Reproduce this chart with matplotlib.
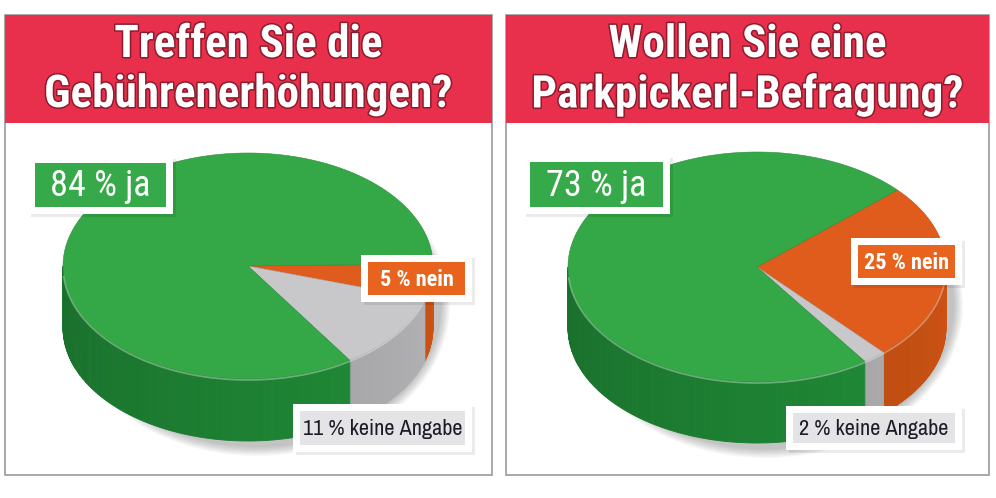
import matplotlib
matplotlib.use("Agg")
import matplotlib.pyplot as plt
import matplotlib.patheffects as pe
from matplotlib.patches import Rectangle, Ellipse
import numpy as np

# survey results, slices drawn clockwise starting at the start angle
titles = [["Treffen Sie die", "Gebührenerhöhungen?"],
          ["Wollen Sie eine", "Parkpickerl-Befragung?"]]
slice_names = ["nein", "keine Angabe", "ja"]
left_values = [5, 11, 84]
right_values = [25, 2, 73]
start_angles = [1, 42]
label_texts = [["5 % nein", "11 % keine Angabe", "84 % ja"],
               ["25 % nein", "2 % keine Angabe", "73 % ja"]]

top_colors = {"nein": "#e05c1c", "keine Angabe": "#c8c8ca", "ja": "#34a746"}
side_colors = {"nein": "#c24e12", "keine Angabe": "#ababad", "ja": "#1f8a36"}
box_colors = {"nein": "#e8641e", "keine Angabe": "#e4e4e6", "ja": "#36a94a"}
text_colors = {"nein": "white", "keine Angabe": "#1c1c28", "ja": "white"}

HEAD = ["Roboto Condensed", "DejaVu Sans"]
NARROW = ["Archivo Narrow", "Roboto Condensed", "DejaVu Sans"]

W, H = 996, 498
fig = plt.figure(figsize=(W / 100, H / 100), dpi=100)
ax = fig.add_axes([0, 0, 1, 1])
ax.set_xlim(0, W)
ax.set_ylim(H, 0)
ax.axis("off")


def shade(color, f):
    c = np.array(matplotlib.colors.to_rgb(color))
    return np.clip(c * f, 0, 1)


def draw_pie(values, start, cx, cy, a, b, depth):
    vals = np.array(values, dtype=float)
    fracs = vals / vals.sum()
    edges = start - np.concatenate([[0], np.cumsum(fracs)]) * 360.0

    # soft shadow
    for k in range(8):
        ax.add_patch(Ellipse((cx + 9, cy + depth / 2 + 8), 2 * a + 16 - k * 2.5,
                             2 * b + depth + 14 - k * 2.5, color="black",
                             alpha=0.03, lw=0, zorder=1))

    # front side, split into thin strips for shading
    for i, name in enumerate(slice_names):
        t1, t2 = edges[i], edges[i + 1]
        lo, hi = min(t1, t2), max(t1, t2)
        for off in (-360, 0, 360):
            s = max(lo, 180 + off)
            e = min(hi, 360 + off)
            if e <= s:
                continue
            th = np.linspace(s, e, int(e - s) + 2)
            for j in range(len(th) - 1):
                tt = np.radians(np.linspace(th[j], th[j + 1], 3))
                xs = cx + a * np.cos(tt)
                ys = cy - b * np.sin(tt)
                # darker toward the left side
                ang = (th[j] - off)
                f = 0.8 + 0.26 * np.clip((ang - 180) / 180, 0, 1)
                col = shade(side_colors[name], f)
                ax.fill(np.r_[xs, xs[::-1]], np.r_[ys, ys[::-1] + depth],
                        color=col, lw=0.6, ec=col, zorder=2)

    # top wedges
    for i, name in enumerate(slice_names):
        th = np.radians(np.linspace(edges[i], edges[i + 1], 200))
        xs = np.r_[cx, cx + a * np.cos(th)]
        ys = np.r_[cy, cy - b * np.sin(th)]
        ax.fill(xs, ys, color=top_colors[name], lw=0.4,
                ec=shade(top_colors[name], 0.85), zorder=3)

    # light rim along the front edge
    th = np.radians(np.linspace(185, 355, 200))
    ax.plot(cx + a * np.cos(th), cy - b * np.sin(th) + 1, color="white",
            alpha=0.35, lw=1.2, zorder=4)


def label(x0, y0, x1, y1, text, name, size, weight="normal", pad=7):
    ax.add_patch(Rectangle((x0 - pad + 3, y0 - pad + 3), x1 - x0 + 2 * pad,
                           y1 - y0 + 2 * pad, fc="black", alpha=0.08, lw=0, zorder=5))
    ax.add_patch(Rectangle((x0 - pad, y0 - pad), x1 - x0 + 2 * pad, y1 - y0 + 2 * pad,
                           fc="white", lw=0, zorder=5))
    ax.add_patch(Rectangle((x0, y0), x1 - x0, y1 - y0, fc=box_colors[name],
                           lw=0, zorder=6))
    ax.text((x0 + x1) / 2, (y0 + y1) / 2 + 1, text, ha="center", va="center",
            fontsize=size, fontweight=weight, color=text_colors[name],
            family=NARROW if name == "keine Angabe" else HEAD, zorder=7)


panels = [(5, 492), (506, 989)]
for p, (x0, x1) in enumerate(panels):
    ax.add_patch(Rectangle((x0, 15), x1 - x0, 460, fc="white", ec="#9a9a9a",
                           lw=1.2, zorder=0))
    ax.add_patch(Rectangle((x0, 15), x1 - x0, 108, fc="#e8304c", lw=0, zorder=1))
    xm = (x0 + x1) / 2
    for k, line in enumerate(titles[p]):
        ax.text(xm, 45 + k * 50, line, ha="center", va="center", fontsize=32.5,
                fontweight=900, color="white", family=HEAD, zorder=2,
                path_effects=[pe.withStroke(linewidth=2.2, foreground="#8e1a2c")])

draw_pie(left_values, start_angles[0], 248, 266, 185, 113, 62)
draw_pie(right_values, start_angles[1], 757, 267, 189, 115, 61)

# label boxes
label(35, 163, 166, 207, label_texts[0][2], "ja", 26, 400)
label(368, 262, 465, 295, label_texts[0][0], "nein", 16, "bold")
label(300, 411, 465, 445, label_texts[0][1], "keine Angabe", 16, 500)
label(530, 162, 663, 207, label_texts[1][2], "ja", 26, 400)
label(858, 245, 955, 278, label_texts[1][0], "nein", 16, "bold")
label(793, 413, 955, 443, label_texts[1][1], "keine Angabe", 16, 500)

fig.savefig("out.png", dpi=100)
